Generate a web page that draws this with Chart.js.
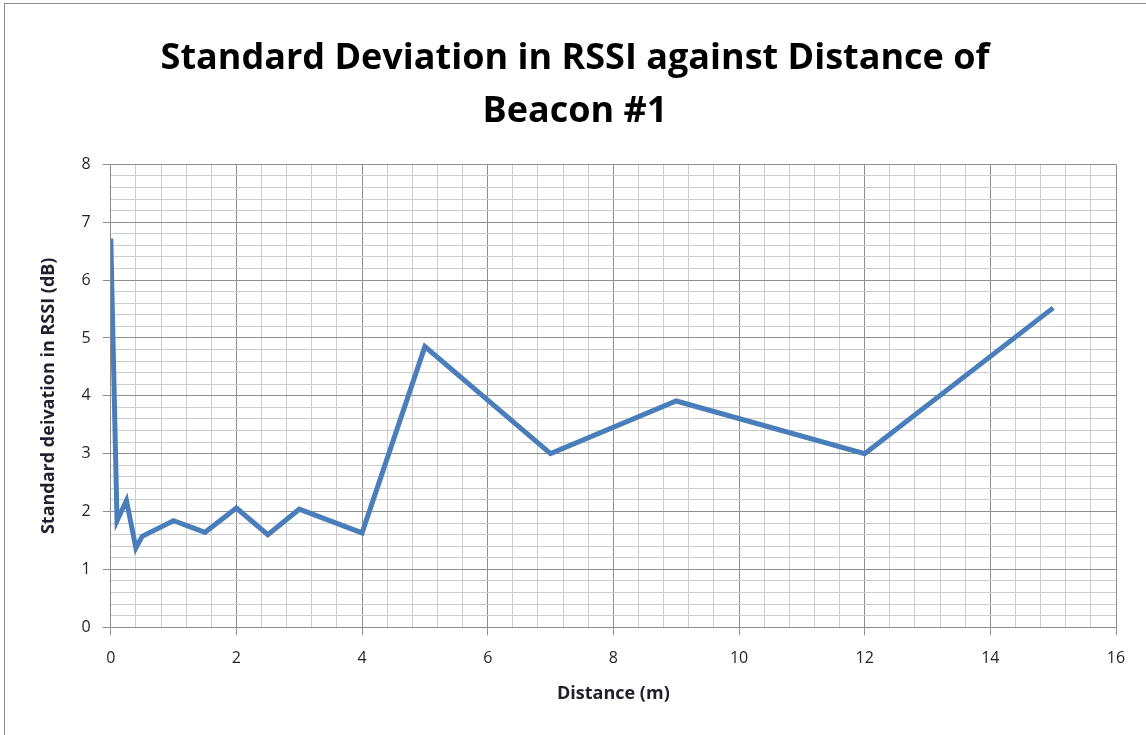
<!DOCTYPE html>
<html>
<head>
<meta charset="utf-8">
<script src="https://cdn.jsdelivr.net/npm/chart.js@4.4.1/dist/chart.umd.min.js"></script>
<style>
  html, body { margin: 0; padding: 0; background: #fff; }
  #frame { position: absolute; left: 4px; top: 3px; width: 1200px; height: 800px; border: 1px solid #8c8c8c; }
  #wrap { position: absolute; left: 0; top: 0; width: 1146px; height: 735px; }
</style>
</head>
<body>
<div id="frame"></div>
<div id="wrap"><canvas id="chart" width="1146" height="735"></canvas></div>
<script>
// Data
const distances = [0, 0.1, 0.25, 0.4, 0.5, 1, 1.5, 2, 2.5, 3, 4, 5, 7, 9, 12, 15];
const stdDev    = [6.72, 1.84, 2.19, 1.37, 1.57, 1.84, 1.64, 2.06, 1.6, 2.04, 1.63, 4.85, 3.0, 3.91, 3.0, 5.52];

const titleLines = ["Standard Deviation in RSSI against Distance of", "Beacon #1"];
const xTitle = "Distance (m)";
const yTitle = "Standard deivation in RSSI (dB)";

var lineColour = "#4a7ebb";
var majorGrid = "#8e8e8e";
var minorGrid = "#cdcdcd";
var labelColour = "#1f1f2e";

const fontFamily = "'Open Sans', sans-serif";

function isMult(v, step) {
    return Math.abs(v / step - Math.round(v / step)) < 1e-6;
}

const points = distances.map((d, i) => ({ x: d, y: stdDev[i] }));

new Chart(document.getElementById('chart'), {
    type: 'line',
    data: {
        datasets: [{
            label: 'Std dev',
            data: points,
            borderColor: lineColour,
            borderWidth: 5,
            pointRadius: 0,
            tension: 0,
            fill: false,
            borderJoinStyle: 'miter'
        }]
    },
    options: {
        responsive: false,
        animation: false,
        layout: { padding: { left: 34, right: 30, top: 33, bottom: 26 } },
        scales: {
            x: {
                type: 'linear',
                min: 0, max: 16,
                ticks: {
                    stepSize: 0.4,
                    autoSkip: false,
                    maxRotation: 0,
                    color: labelColour,
                    font: { family: fontFamily, size: 16 },
                    padding: 14,
                    callback: v => isMult(v, 2) ? Math.round(v) : ''
                },
                grid: {
                    color: ctx => isMult(ctx.tick.value, 2) ? majorGrid : minorGrid,
                    tickColor: ctx => isMult(ctx.tick.value, 2) ? majorGrid : 'rgba(0,0,0,0)',
                    tickLength: 8,
                    lineWidth: 1
                },
                border: { color: majorGrid },
                title: {
                    display: true, text: xTitle, color: labelColour,
                    font: { family: fontFamily, size: 18, weight: 'bold' },
                    padding: { top: 1 }
                }
            },
            y: {
                min: 0, max: 8,
                ticks: {
                    stepSize: 0.2,
                    autoSkip: false,
                    color: labelColour,
                    font: { family: fontFamily, size: 16 },
                    padding: 12,
                    callback: v => isMult(v, 1) ? Math.round(v) : ''
                },
                grid: {
                    color: ctx => isMult(ctx.tick.value, 1) ? majorGrid : minorGrid,
                    tickColor: ctx => isMult(ctx.tick.value, 1) ? majorGrid : 'rgba(0,0,0,0)',
                    tickLength: 8,
                    lineWidth: 1
                },
                border: { color: majorGrid },
                title: {
                    display: true, text: yTitle, color: labelColour,
                    font: { family: fontFamily, size: 18, weight: 'bold' },
                    padding: { bottom: 10 }
                }
            }
        },
        plugins: {
            legend: { display: false },
            tooltip: { enabled: false },
            title: {
                display: true,
                text: titleLines,
                color: '#000',
                font: { family: fontFamily, size: 36, weight: 'bold', lineHeight: 1.45 },
                padding: { top: 0, bottom: 27 }
            }
        }
    }
});
</script>
</body>
</html>
